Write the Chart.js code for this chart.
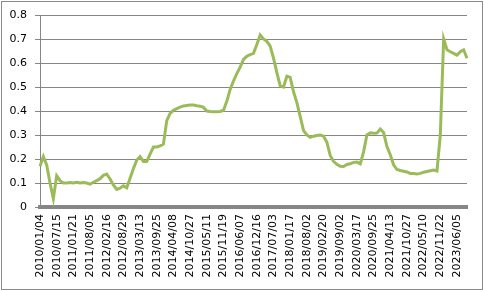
<!DOCTYPE html>
<html>
<head>
<meta charset="utf-8">
<script src="https://cdn.jsdelivr.net/npm/chart.js@4"></script>
<style>
  body { margin: 0; background: #fff; }
  canvas { display: block; }
</style>
</head>
<body>
<canvas id="lineChart" width="484" height="291"></canvas>
<script>
// axis labels shown under the chart (one every 5 points)
var tickLabels = ['2010/01/04','2010/07/15','2011/01/21','2011/08/05','2012/02/16','2012/08/29','2013/03/13',
    '2013/09/25','2014/04/08','2014/10/27','2015/05/11','2015/11/19','2016/06/07','2016/12/16',
    '2017/07/03','2018/01/17','2018/08/02','2019/02/20','2019/09/02','2020/03/17','2020/09/25',
    '2021/04/13','2021/10/27','2022/05/10','2022/11/22','2023/06/05'];
var perTick = 5;

// series
var values = [
    0.17, 0.21, 0.175, 0.10, 0.035, 0.13, 0.11, 0.10, 0.10, 0.102,
    0.10, 0.103, 0.10, 0.102, 0.10, 0.095, 0.103, 0.11, 0.118, 0.132,
    0.137, 0.117, 0.092, 0.073, 0.078, 0.088, 0.08, 0.12, 0.16, 0.196,
    0.21, 0.19, 0.19, 0.22, 0.25, 0.25, 0.255, 0.262, 0.36, 0.39,
    0.403, 0.41, 0.416, 0.421, 0.423, 0.425, 0.425, 0.422, 0.42, 0.415,
    0.40, 0.398, 0.397, 0.397, 0.398, 0.403, 0.44, 0.49, 0.525, 0.556,
    0.583, 0.615, 0.628, 0.635, 0.64, 0.677, 0.717, 0.70, 0.69, 0.67,
    0.62, 0.56, 0.505, 0.50, 0.545, 0.54, 0.48, 0.435, 0.378, 0.318,
    0.30, 0.29, 0.295, 0.298, 0.30, 0.295, 0.27, 0.215, 0.19, 0.178,
    0.17, 0.169, 0.177, 0.18, 0.186, 0.187, 0.18, 0.23, 0.30, 0.309,
    0.307, 0.308, 0.325, 0.31, 0.252, 0.218, 0.176, 0.156, 0.152, 0.149,
    0.146, 0.14, 0.14, 0.138, 0.14, 0.145, 0.148, 0.151, 0.154, 0.15,
    0.30, 0.70, 0.655, 0.647, 0.64, 0.633, 0.647, 0.655, 0.62
];

var yMin = 0, yMax = 0.8, yStep = 0.1;

var labels = values.map(function (v, i) {
    return i % perTick === 0 ? (tickLabels[i / perTick] || '') : '';
});

// outer frame of the chart
var framePlugin = {
    id: 'frame',
    afterDraw: function (chart) {
        var ctx = chart.ctx;
        ctx.save();
        ctx.strokeStyle = '#8a8a8a';
        ctx.lineWidth = 1;
        ctx.strokeRect(1.5, 1.5, 481, 288);
        ctx.restore();
    }
};

new Chart(document.querySelector('#lineChart'), {
    type: 'line',
    data: {
        labels: labels,
        datasets: [{
            data: values,
            borderColor: '#9bbb59',
            borderWidth: 3,
            pointRadius: 0,
            tension: 0,
            fill: false
        }]
    },
    options: {
        responsive: false,
        animation: false,
        layout: { padding: { left: 2, right: 17, top: 15, bottom: 0 } },
        plugins: { legend: { display: false }, tooltip: { enabled: false } },
        scales: {
            x: {
                grid: { display: false, drawTicks: false },
                border: { color: '#868686', width: 4 },
                ticks: {
                    autoSkip: false,
                    minRotation: 90,
                    maxRotation: 90,
                    padding: 7,
                    color: '#000',
                    font: { family: 'DejaVu Sans', size: 11 },
                    callback: function (val, index) {
                        return labels[index] === '' ? null : labels[index];
                    }
                },
                afterFit: function (scale) { scale.height = 84; }
            },
            y: {
                min: yMin,
                max: yMax,
                grid: { color: '#868686', tickLength: 5 },
                border: { color: '#868686', width: 1 },
                ticks: {
                    stepSize: yStep,
                    padding: 8,
                    color: '#000',
                    font: { family: 'DejaVu Sans', size: 11 },
                    callback: function (v) { return Math.round(v * 10) / 10; }
                },
                afterFit: function (scale) { scale.width = 38; }
            }
        }
    },
    plugins: [framePlugin]
});
</script>
</body>
</html>
